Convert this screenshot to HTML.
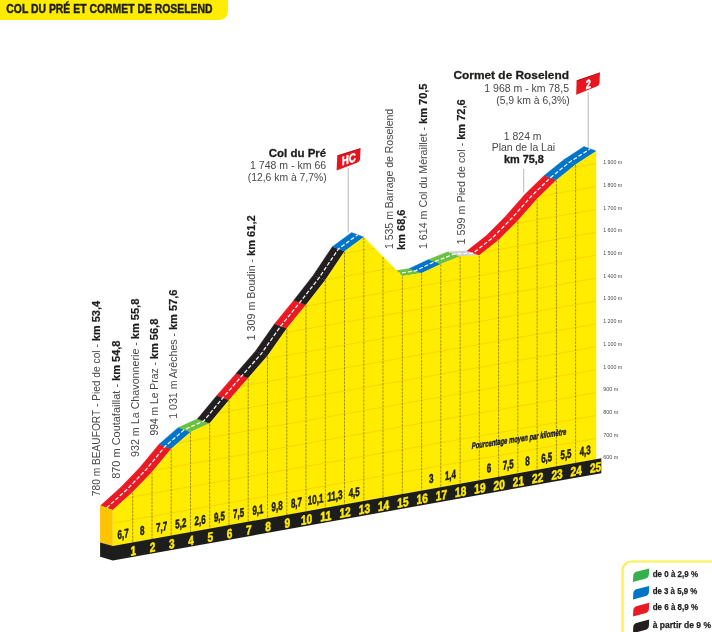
<!DOCTYPE html>
<html lang="fr"><head><meta charset="utf-8"><title>Col du Pré et Cormet de Roselend</title>
<style>html,body{margin:0;padding:0;background:#fff}svg{display:block}</style></head>
<body>
<svg width="712" height="632" viewBox="0 0 712 632" font-family="'Liberation Sans', sans-serif">
<rect width="712" height="632" fill="#fff"/>
<path d="M0 0H228V11.5a8.5 8.5 0 0 1 -8.5 8.5H0Z" fill="#ffec00"/>
<text x="6.3" y="12.6" font-size="13.2" font-weight="700" fill="#1d1d1b" stroke="#1d1d1b" stroke-width="0.45" textLength="206.3" lengthAdjust="spacingAndGlyphs">COL DU PRÉ ET CORMET DE ROSELEND</text>
<polygon points="112.8,510.0 132.7,492.0 120.5,487.5 100.6,505.5" fill="#ea1a24" stroke="#ea1a24" stroke-width="0.4"/>
<polygon points="132.7,492.0 152.0,472.0 139.8,467.5 120.5,487.5" fill="#ea1a24" stroke="#ea1a24" stroke-width="0.4"/>
<polygon points="152.0,472.0 171.2,448.7 159.0,444.2 139.8,467.5" fill="#ea1a24" stroke="#ea1a24" stroke-width="0.4"/>
<polygon points="171.2,448.7 190.5,431.9 178.3,427.4 159.0,444.2" fill="#0074c8" stroke="#0074c8" stroke-width="0.4"/>
<polygon points="190.5,431.9 209.7,423.3 197.5,418.8 178.3,427.4" fill="#6abf45" stroke="#6abf45" stroke-width="0.4"/>
<polygon points="209.7,423.3 229.0,400.0 216.8,395.5 197.5,418.8" fill="#231f20" stroke="#231f20" stroke-width="0.4"/>
<polygon points="229.0,400.0 248.2,377.9 236.0,373.4 216.8,395.5" fill="#ea1a24" stroke="#ea1a24" stroke-width="0.4"/>
<polygon points="248.2,377.9 267.5,355.8 255.3,351.3 236.0,373.4" fill="#231f20" stroke="#231f20" stroke-width="0.4"/>
<polygon points="267.5,355.8 286.8,328.3 274.6,323.8 255.3,351.3" fill="#231f20" stroke="#231f20" stroke-width="0.4"/>
<polygon points="286.8,328.3 306.0,304.7 293.8,300.2 274.6,323.8" fill="#ea1a24" stroke="#ea1a24" stroke-width="0.4"/>
<polygon points="306.0,304.7 325.3,279.9 313.1,275.4 293.8,300.2" fill="#231f20" stroke="#231f20" stroke-width="0.4"/>
<polygon points="325.3,279.9 344.5,251.2 332.3,246.7 313.1,275.4" fill="#231f20" stroke="#231f20" stroke-width="0.4"/>
<polygon points="344.5,251.2 363.8,237.0 351.6,232.5 332.3,246.7" fill="#0074c8" stroke="#0074c8" stroke-width="0.4"/>
<polygon points="402.3,276.0 421.6,273.0 409.4,268.5 390.1,271.5" fill="#6abf45" stroke="#6abf45" stroke-width="0.4"/>
<polygon points="421.6,273.0 440.8,263.9 428.6,259.4 409.4,268.5" fill="#0074c8" stroke="#0074c8" stroke-width="0.4"/>
<polygon points="440.8,263.9 460.1,256.3 447.9,251.8 428.6,259.4" fill="#6abf45" stroke="#6abf45" stroke-width="0.4"/>
<polygon points="460.1,256.3 479.3,255.3 467.1,250.8 447.9,251.8" fill="#cfcfcf" stroke="#cfcfcf" stroke-width="0.4"/>
<polygon points="479.3,255.3 498.6,240.1 486.4,235.6 467.1,250.8" fill="#ea1a24" stroke="#ea1a24" stroke-width="0.4"/>
<polygon points="498.6,240.1 517.8,220.7 505.6,216.2 486.4,235.6" fill="#ea1a24" stroke="#ea1a24" stroke-width="0.4"/>
<polygon points="517.8,220.7 537.1,198.8 524.9,194.3 505.6,216.2" fill="#ea1a24" stroke="#ea1a24" stroke-width="0.4"/>
<polygon points="537.1,198.8 556.4,180.0 544.2,175.5 524.9,194.3" fill="#ea1a24" stroke="#ea1a24" stroke-width="0.4"/>
<polygon points="556.4,180.0 575.6,164.5 563.4,160.0 544.2,175.5" fill="#0074c8" stroke="#0074c8" stroke-width="0.4"/>
<polygon points="575.6,164.5 596.2,151.0 584.0,146.5 563.4,160.0" fill="#0074c8" stroke="#0074c8" stroke-width="0.4"/>
<path d="M106.7,507.8 L126.6,489.8 L145.9,469.8 L165.1,446.4 L184.4,429.6 L203.6,421.1 L222.9,397.8 L242.1,375.6 L261.4,353.6 L280.7,326.1 L299.9,302.4 L319.2,277.6 L338.4,248.9 L357.7,234.8" fill="none" stroke="#fff" stroke-width="1.2" stroke-dasharray="4 1.9"/>
<path d="M396.2,273.8 L415.5,270.8 L434.7,261.6 L454.0,254.1 L473.2,253.1 L492.5,237.8 L511.7,218.4 L531.0,196.6 L550.3,177.8 L569.5,162.2 L590.1,148.8" fill="none" stroke="#fff" stroke-width="1.2" stroke-dasharray="4 1.9"/>
<polygon points="100.1,505.2 112.8,510.0 112.8,546.6 100.1,542.5" fill="#fdc400"/>
<clipPath id="ff"><polygon points="112.8,510.0 132.7,492.0 152.0,472.0 171.2,448.7 190.5,431.9 209.7,423.3 229.0,400.0 248.2,377.9 267.5,355.8 286.8,328.3 306.0,304.7 325.3,279.9 344.5,251.2 363.8,237.0 383.0,256.5 402.3,276.0 421.6,273.0 440.8,263.9 460.1,256.3 479.3,255.3 498.6,240.1 517.8,220.7 537.1,198.8 556.4,180.0 575.6,164.5 596.2,151.0 596.25,459.2 112.8,546.3"/></clipPath>
<polygon points="112.8,510.0 132.7,492.0 152.0,472.0 171.2,448.7 190.5,431.9 209.7,423.3 229.0,400.0 248.2,377.9 267.5,355.8 286.8,328.3 306.0,304.7 325.3,279.9 344.5,251.2 363.8,237.0 383.0,256.5 402.3,276.0 421.6,273.0 440.8,263.9 460.1,256.3 479.3,255.3 498.6,240.1 517.8,220.7 537.1,198.8 556.4,180.0 575.6,164.5 596.2,151.0 596.25,459.2 112.8,546.3" fill="#ffec00"/>
<g clip-path="url(#ff)" stroke="#f6d100" stroke-width="0.8" fill="none">
<line x1="112.8" y1="523.2" x2="596.25" y2="438.4"/>
<line x1="112.8" y1="500.3" x2="596.25" y2="415.5"/>
<line x1="112.8" y1="477.4" x2="596.25" y2="392.6"/>
<line x1="112.8" y1="454.5" x2="596.25" y2="369.7"/>
<line x1="112.8" y1="431.6" x2="596.25" y2="346.8"/>
<line x1="112.8" y1="408.7" x2="596.25" y2="323.9"/>
<line x1="112.8" y1="385.8" x2="596.25" y2="301.0"/>
<line x1="112.8" y1="362.9" x2="596.25" y2="278.1"/>
<line x1="112.8" y1="340.0" x2="596.25" y2="255.2"/>
<line x1="112.8" y1="317.1" x2="596.25" y2="232.3"/>
<line x1="112.8" y1="294.2" x2="596.25" y2="209.4"/>
<line x1="112.8" y1="271.3" x2="596.25" y2="186.5"/>
<line x1="112.8" y1="248.4" x2="596.25" y2="163.6"/>
</g>
<g stroke="#524a00" stroke-width="0.55" stroke-dasharray="2.6 1" fill="none">
<line x1="132.7" y1="492.5" x2="132.7" y2="542.7"/>
<line x1="152.0" y1="472.5" x2="152.0" y2="539.2"/>
<line x1="171.2" y1="449.2" x2="171.2" y2="535.8"/>
<line x1="190.5" y1="432.4" x2="190.5" y2="532.3"/>
<line x1="209.7" y1="423.8" x2="209.7" y2="528.8"/>
<line x1="229.0" y1="400.5" x2="229.0" y2="525.4"/>
<line x1="248.2" y1="378.4" x2="248.2" y2="521.9"/>
<line x1="267.5" y1="356.3" x2="267.5" y2="518.4"/>
<line x1="286.8" y1="328.8" x2="286.8" y2="515.0"/>
<line x1="306.0" y1="305.2" x2="306.0" y2="511.5"/>
<line x1="325.3" y1="280.4" x2="325.3" y2="508.0"/>
<line x1="344.5" y1="251.7" x2="344.5" y2="504.6"/>
<line x1="363.8" y1="237.5" x2="363.8" y2="501.1"/>
<line x1="383.0" y1="257.0" x2="383.0" y2="497.6"/>
<line x1="402.3" y1="276.5" x2="402.3" y2="494.2"/>
<line x1="421.6" y1="273.5" x2="421.6" y2="490.7"/>
<line x1="440.8" y1="264.4" x2="440.8" y2="487.2"/>
<line x1="460.1" y1="256.8" x2="460.1" y2="483.8"/>
<line x1="479.3" y1="255.8" x2="479.3" y2="480.3"/>
<line x1="498.6" y1="240.6" x2="498.6" y2="476.8"/>
<line x1="517.8" y1="221.2" x2="517.8" y2="473.4"/>
<line x1="537.1" y1="199.3" x2="537.1" y2="469.9"/>
<line x1="556.4" y1="180.5" x2="556.4" y2="466.4"/>
<line x1="575.6" y1="165.0" x2="575.6" y2="462.9"/>
</g>
<polygon points="100.1,542.5 112.8,546 601.3,458.3 601.3,473.2 112.8,560.5 100.1,556.7" fill="#1d1d1b"/>
<text transform="translate(133.3,555.3) skewY(-10.2)" font-size="13" font-weight="700" fill="#ffec00" stroke="#ffec00" stroke-width="0.55" text-anchor="middle" textLength="5.6" lengthAdjust="spacingAndGlyphs">1</text>
<text transform="translate(152.6,551.8) skewY(-10.2)" font-size="13" font-weight="700" fill="#ffec00" stroke="#ffec00" stroke-width="0.55" text-anchor="middle" textLength="5.6" lengthAdjust="spacingAndGlyphs">2</text>
<text transform="translate(171.8,548.3) skewY(-10.2)" font-size="13" font-weight="700" fill="#ffec00" stroke="#ffec00" stroke-width="0.55" text-anchor="middle" textLength="5.6" lengthAdjust="spacingAndGlyphs">3</text>
<text transform="translate(191.1,544.9) skewY(-10.2)" font-size="13" font-weight="700" fill="#ffec00" stroke="#ffec00" stroke-width="0.55" text-anchor="middle" textLength="5.6" lengthAdjust="spacingAndGlyphs">4</text>
<text transform="translate(210.3,541.4) skewY(-10.2)" font-size="13" font-weight="700" fill="#ffec00" stroke="#ffec00" stroke-width="0.55" text-anchor="middle" textLength="5.6" lengthAdjust="spacingAndGlyphs">5</text>
<text transform="translate(229.6,537.9) skewY(-10.2)" font-size="13" font-weight="700" fill="#ffec00" stroke="#ffec00" stroke-width="0.55" text-anchor="middle" textLength="5.6" lengthAdjust="spacingAndGlyphs">6</text>
<text transform="translate(248.8,534.4) skewY(-10.2)" font-size="13" font-weight="700" fill="#ffec00" stroke="#ffec00" stroke-width="0.55" text-anchor="middle" textLength="5.6" lengthAdjust="spacingAndGlyphs">7</text>
<text transform="translate(268.1,531.0) skewY(-10.2)" font-size="13" font-weight="700" fill="#ffec00" stroke="#ffec00" stroke-width="0.55" text-anchor="middle" textLength="5.6" lengthAdjust="spacingAndGlyphs">8</text>
<text transform="translate(287.4,527.5) skewY(-10.2)" font-size="13" font-weight="700" fill="#ffec00" stroke="#ffec00" stroke-width="0.55" text-anchor="middle" textLength="5.6" lengthAdjust="spacingAndGlyphs">9</text>
<text transform="translate(306.6,524.0) skewY(-10.2)" font-size="13" font-weight="700" fill="#ffec00" stroke="#ffec00" stroke-width="0.55" text-anchor="middle" textLength="11.2" lengthAdjust="spacingAndGlyphs">10</text>
<text transform="translate(325.9,520.6) skewY(-10.2)" font-size="13" font-weight="700" fill="#ffec00" stroke="#ffec00" stroke-width="0.55" text-anchor="middle" textLength="11.2" lengthAdjust="spacingAndGlyphs">11</text>
<text transform="translate(345.1,517.1) skewY(-10.2)" font-size="13" font-weight="700" fill="#ffec00" stroke="#ffec00" stroke-width="0.55" text-anchor="middle" textLength="11.2" lengthAdjust="spacingAndGlyphs">12</text>
<text transform="translate(364.4,513.6) skewY(-10.2)" font-size="13" font-weight="700" fill="#ffec00" stroke="#ffec00" stroke-width="0.55" text-anchor="middle" textLength="11.2" lengthAdjust="spacingAndGlyphs">13</text>
<text transform="translate(383.6,510.2) skewY(-10.2)" font-size="13" font-weight="700" fill="#ffec00" stroke="#ffec00" stroke-width="0.55" text-anchor="middle" textLength="11.2" lengthAdjust="spacingAndGlyphs">14</text>
<text transform="translate(402.9,506.7) skewY(-10.2)" font-size="13" font-weight="700" fill="#ffec00" stroke="#ffec00" stroke-width="0.55" text-anchor="middle" textLength="11.2" lengthAdjust="spacingAndGlyphs">15</text>
<text transform="translate(422.2,503.2) skewY(-10.2)" font-size="13" font-weight="700" fill="#ffec00" stroke="#ffec00" stroke-width="0.55" text-anchor="middle" textLength="11.2" lengthAdjust="spacingAndGlyphs">16</text>
<text transform="translate(441.4,499.8) skewY(-10.2)" font-size="13" font-weight="700" fill="#ffec00" stroke="#ffec00" stroke-width="0.55" text-anchor="middle" textLength="11.2" lengthAdjust="spacingAndGlyphs">17</text>
<text transform="translate(460.7,496.3) skewY(-10.2)" font-size="13" font-weight="700" fill="#ffec00" stroke="#ffec00" stroke-width="0.55" text-anchor="middle" textLength="11.2" lengthAdjust="spacingAndGlyphs">18</text>
<text transform="translate(479.9,492.8) skewY(-10.2)" font-size="13" font-weight="700" fill="#ffec00" stroke="#ffec00" stroke-width="0.55" text-anchor="middle" textLength="11.2" lengthAdjust="spacingAndGlyphs">19</text>
<text transform="translate(499.2,489.4) skewY(-10.2)" font-size="13" font-weight="700" fill="#ffec00" stroke="#ffec00" stroke-width="0.55" text-anchor="middle" textLength="11.2" lengthAdjust="spacingAndGlyphs">20</text>
<text transform="translate(518.4,485.9) skewY(-10.2)" font-size="13" font-weight="700" fill="#ffec00" stroke="#ffec00" stroke-width="0.55" text-anchor="middle" textLength="11.2" lengthAdjust="spacingAndGlyphs">21</text>
<text transform="translate(537.7,482.4) skewY(-10.2)" font-size="13" font-weight="700" fill="#ffec00" stroke="#ffec00" stroke-width="0.55" text-anchor="middle" textLength="11.2" lengthAdjust="spacingAndGlyphs">22</text>
<text transform="translate(557.0,479.0) skewY(-10.2)" font-size="13" font-weight="700" fill="#ffec00" stroke="#ffec00" stroke-width="0.55" text-anchor="middle" textLength="11.2" lengthAdjust="spacingAndGlyphs">23</text>
<text transform="translate(576.2,475.5) skewY(-10.2)" font-size="13" font-weight="700" fill="#ffec00" stroke="#ffec00" stroke-width="0.55" text-anchor="middle" textLength="11.2" lengthAdjust="spacingAndGlyphs">24</text>
<text transform="translate(595.5,472.0) skewY(-10.2)" font-size="13" font-weight="700" fill="#ffec00" stroke="#ffec00" stroke-width="0.55" text-anchor="middle" textLength="11.2" lengthAdjust="spacingAndGlyphs">25</text>
<text transform="translate(123.1,538.2) skewY(-10.2)" font-size="12.5" font-weight="700" fill="#1d1d1b" stroke="#1d1d1b" stroke-width="0.55" text-anchor="middle" textLength="11.0" lengthAdjust="spacingAndGlyphs">6,7</text>
<text transform="translate(142.3,534.8) skewY(-10.2)" font-size="12.5" font-weight="700" fill="#1d1d1b" stroke="#1d1d1b" stroke-width="0.55" text-anchor="middle" textLength="4.5" lengthAdjust="spacingAndGlyphs">8</text>
<text transform="translate(161.6,531.3) skewY(-10.2)" font-size="12.5" font-weight="700" fill="#1d1d1b" stroke="#1d1d1b" stroke-width="0.55" text-anchor="middle" textLength="11.0" lengthAdjust="spacingAndGlyphs">7,7</text>
<text transform="translate(180.8,527.8) skewY(-10.2)" font-size="12.5" font-weight="700" fill="#1d1d1b" stroke="#1d1d1b" stroke-width="0.55" text-anchor="middle" textLength="11.0" lengthAdjust="spacingAndGlyphs">5,2</text>
<text transform="translate(200.1,524.4) skewY(-10.2)" font-size="12.5" font-weight="700" fill="#1d1d1b" stroke="#1d1d1b" stroke-width="0.55" text-anchor="middle" textLength="11.0" lengthAdjust="spacingAndGlyphs">2,6</text>
<text transform="translate(219.4,520.9) skewY(-10.2)" font-size="12.5" font-weight="700" fill="#1d1d1b" stroke="#1d1d1b" stroke-width="0.55" text-anchor="middle" textLength="11.0" lengthAdjust="spacingAndGlyphs">9,5</text>
<text transform="translate(238.6,517.4) skewY(-10.2)" font-size="12.5" font-weight="700" fill="#1d1d1b" stroke="#1d1d1b" stroke-width="0.55" text-anchor="middle" textLength="11.0" lengthAdjust="spacingAndGlyphs">7,5</text>
<text transform="translate(257.9,514.0) skewY(-10.2)" font-size="12.5" font-weight="700" fill="#1d1d1b" stroke="#1d1d1b" stroke-width="0.55" text-anchor="middle" textLength="11.0" lengthAdjust="spacingAndGlyphs">9,1</text>
<text transform="translate(277.1,510.5) skewY(-10.2)" font-size="12.5" font-weight="700" fill="#1d1d1b" stroke="#1d1d1b" stroke-width="0.55" text-anchor="middle" textLength="11.0" lengthAdjust="spacingAndGlyphs">9,8</text>
<text transform="translate(296.4,507.0) skewY(-10.2)" font-size="12.5" font-weight="700" fill="#1d1d1b" stroke="#1d1d1b" stroke-width="0.55" text-anchor="middle" textLength="11.0" lengthAdjust="spacingAndGlyphs">8,7</text>
<text transform="translate(315.6,503.6) skewY(-10.2)" font-size="12.5" font-weight="700" fill="#1d1d1b" stroke="#1d1d1b" stroke-width="0.55" text-anchor="middle" textLength="15.5" lengthAdjust="spacingAndGlyphs">10,1</text>
<text transform="translate(334.9,500.1) skewY(-10.2)" font-size="12.5" font-weight="700" fill="#1d1d1b" stroke="#1d1d1b" stroke-width="0.55" text-anchor="middle" textLength="15.5" lengthAdjust="spacingAndGlyphs">11,3</text>
<text transform="translate(354.2,496.6) skewY(-10.2)" font-size="12.5" font-weight="700" fill="#1d1d1b" stroke="#1d1d1b" stroke-width="0.55" text-anchor="middle" textLength="11.0" lengthAdjust="spacingAndGlyphs">4,5</text>
<text transform="translate(431.2,482.8) skewY(-10.2)" font-size="12.5" font-weight="700" fill="#1d1d1b" stroke="#1d1d1b" stroke-width="0.55" text-anchor="middle" textLength="4.5" lengthAdjust="spacingAndGlyphs">3</text>
<text transform="translate(450.4,479.3) skewY(-10.2)" font-size="12.5" font-weight="700" fill="#1d1d1b" stroke="#1d1d1b" stroke-width="0.55" text-anchor="middle" textLength="11.0" lengthAdjust="spacingAndGlyphs">1,4</text>
<text transform="translate(489.0,472.4) skewY(-10.2)" font-size="12.5" font-weight="700" fill="#1d1d1b" stroke="#1d1d1b" stroke-width="0.55" text-anchor="middle" textLength="4.5" lengthAdjust="spacingAndGlyphs">6</text>
<text transform="translate(508.2,468.9) skewY(-10.2)" font-size="12.5" font-weight="700" fill="#1d1d1b" stroke="#1d1d1b" stroke-width="0.55" text-anchor="middle" textLength="11.0" lengthAdjust="spacingAndGlyphs">7,5</text>
<text transform="translate(527.5,465.4) skewY(-10.2)" font-size="12.5" font-weight="700" fill="#1d1d1b" stroke="#1d1d1b" stroke-width="0.55" text-anchor="middle" textLength="4.5" lengthAdjust="spacingAndGlyphs">8</text>
<text transform="translate(546.7,461.9) skewY(-10.2)" font-size="12.5" font-weight="700" fill="#1d1d1b" stroke="#1d1d1b" stroke-width="0.55" text-anchor="middle" textLength="11.0" lengthAdjust="spacingAndGlyphs">6,5</text>
<text transform="translate(566.0,458.5) skewY(-10.2)" font-size="12.5" font-weight="700" fill="#1d1d1b" stroke="#1d1d1b" stroke-width="0.55" text-anchor="middle" textLength="11.0" lengthAdjust="spacingAndGlyphs">5,5</text>
<text transform="translate(585.2,455.0) skewY(-10.2)" font-size="12.5" font-weight="700" fill="#1d1d1b" stroke="#1d1d1b" stroke-width="0.55" text-anchor="middle" textLength="11.0" lengthAdjust="spacingAndGlyphs">4,3</text>
<text transform="translate(471.8,448.9) skewY(-8.6)" font-size="9" font-weight="700" font-style="italic" fill="#14143c" stroke="#14143c" stroke-width="0.4" textLength="94.5" lengthAdjust="spacingAndGlyphs">Pourcentage moyen par kilomètre</text>
<text x="603.2" y="459.3" font-size="5.5" fill="#4a4a4a" textLength="15.2" lengthAdjust="spacingAndGlyphs">600 m</text>
<text x="603.2" y="436.6" font-size="5.5" fill="#4a4a4a" textLength="15.2" lengthAdjust="spacingAndGlyphs">700 m</text>
<text x="603.2" y="413.9" font-size="5.5" fill="#4a4a4a" textLength="15.2" lengthAdjust="spacingAndGlyphs">800 m</text>
<text x="603.2" y="391.2" font-size="5.5" fill="#4a4a4a" textLength="15.2" lengthAdjust="spacingAndGlyphs">900 m</text>
<text x="603.2" y="368.5" font-size="5.5" fill="#4a4a4a" textLength="19" lengthAdjust="spacingAndGlyphs">1 000 m</text>
<text x="603.2" y="345.8" font-size="5.5" fill="#4a4a4a" textLength="19" lengthAdjust="spacingAndGlyphs">1 100 m</text>
<text x="603.2" y="323.0" font-size="5.5" fill="#4a4a4a" textLength="19" lengthAdjust="spacingAndGlyphs">1 200 m</text>
<text x="603.2" y="300.3" font-size="5.5" fill="#4a4a4a" textLength="19" lengthAdjust="spacingAndGlyphs">1 300 m</text>
<text x="603.2" y="277.6" font-size="5.5" fill="#4a4a4a" textLength="19" lengthAdjust="spacingAndGlyphs">1 400 m</text>
<text x="603.2" y="254.9" font-size="5.5" fill="#4a4a4a" textLength="19" lengthAdjust="spacingAndGlyphs">1 500 m</text>
<text x="603.2" y="232.2" font-size="5.5" fill="#4a4a4a" textLength="19" lengthAdjust="spacingAndGlyphs">1 600 m</text>
<text x="603.2" y="209.5" font-size="5.5" fill="#4a4a4a" textLength="19" lengthAdjust="spacingAndGlyphs">1 700 m</text>
<text x="603.2" y="186.8" font-size="5.5" fill="#4a4a4a" textLength="19" lengthAdjust="spacingAndGlyphs">1 800 m</text>
<text x="603.2" y="164.1" font-size="5.5" fill="#4a4a4a" textLength="19" lengthAdjust="spacingAndGlyphs">1 900 m</text>
<text transform="translate(99.8,496.2) rotate(-90)" font-size="10.6" fill="#484847" textLength="152.0" lengthAdjust="spacingAndGlyphs">780 m BEAUFORT - Pied de col -</text>
<text transform="translate(99.8,300.8) rotate(-90)" font-size="10.6" font-weight="700" fill="#1d1d1b" stroke="#1d1d1b" stroke-width="0.2" text-anchor="end" textLength="40.5" lengthAdjust="spacingAndGlyphs">km 53,4</text>
<text transform="translate(119.5,478.8) rotate(-90)" font-size="10.6" fill="#484847" textLength="94.9" lengthAdjust="spacingAndGlyphs">870 m Coutafaillat -</text>
<text transform="translate(119.5,340.5) rotate(-90)" font-size="10.6" font-weight="700" fill="#1d1d1b" stroke="#1d1d1b" stroke-width="0.2" text-anchor="end" textLength="40.5" lengthAdjust="spacingAndGlyphs">km 54,8</text>
<text transform="translate(139.0,457.0) rotate(-90)" font-size="10.6" fill="#484847" textLength="114.9" lengthAdjust="spacingAndGlyphs">932 m La Chavonnerie -</text>
<text transform="translate(139.0,298.7) rotate(-90)" font-size="10.6" font-weight="700" fill="#1d1d1b" stroke="#1d1d1b" stroke-width="0.2" text-anchor="end" textLength="40.5" lengthAdjust="spacingAndGlyphs">km 55,8</text>
<text transform="translate(158.1,435.6) rotate(-90)" font-size="10.6" fill="#484847" textLength="73.5" lengthAdjust="spacingAndGlyphs">994 m Le Praz -</text>
<text transform="translate(158.1,318.7) rotate(-90)" font-size="10.6" font-weight="700" fill="#1d1d1b" stroke="#1d1d1b" stroke-width="0.2" text-anchor="end" textLength="40.5" lengthAdjust="spacingAndGlyphs">km 56,8</text>
<text transform="translate(176.9,418.7) rotate(-90)" font-size="10.6" fill="#484847" textLength="85.7" lengthAdjust="spacingAndGlyphs">1 031 m Arêches -</text>
<text transform="translate(176.9,289.6) rotate(-90)" font-size="10.6" font-weight="700" fill="#1d1d1b" stroke="#1d1d1b" stroke-width="0.2" text-anchor="end" textLength="40.5" lengthAdjust="spacingAndGlyphs">km 57,6</text>
<text transform="translate(254.9,340.4) rotate(-90)" font-size="10.6" fill="#484847" textLength="81.6" lengthAdjust="spacingAndGlyphs">1 309 m Boudin -</text>
<text transform="translate(254.9,215.4) rotate(-90)" font-size="10.6" font-weight="700" fill="#1d1d1b" stroke="#1d1d1b" stroke-width="0.2" text-anchor="end" textLength="40.5" lengthAdjust="spacingAndGlyphs">km 61,2</text>
<text transform="translate(393.0,249.1) rotate(-90)" font-size="10.6" fill="#484847" textLength="140.3" lengthAdjust="spacingAndGlyphs">1 535 m Barrage de Roselend</text>
<text transform="translate(405.1,249.9) rotate(-90)" font-size="10.6" font-weight="700" fill="#1d1d1b" stroke="#1d1d1b" stroke-width="0.2" textLength="40.3" lengthAdjust="spacingAndGlyphs">km 68,6</text>
<text transform="translate(427.2,249.1) rotate(-90)" font-size="10.6" fill="#484847" textLength="122.2" lengthAdjust="spacingAndGlyphs">1 614 m Col du Méraillet -</text>
<text transform="translate(427.2,83.5) rotate(-90)" font-size="10.6" font-weight="700" fill="#1d1d1b" stroke="#1d1d1b" stroke-width="0.2" text-anchor="end" textLength="40.5" lengthAdjust="spacingAndGlyphs">km 70,5</text>
<text transform="translate(465.4,244.4) rotate(-90)" font-size="10.6" fill="#484847" textLength="101.7" lengthAdjust="spacingAndGlyphs">1 599 m Pied de col -</text>
<text transform="translate(465.4,99.3) rotate(-90)" font-size="10.6" font-weight="700" fill="#1d1d1b" stroke="#1d1d1b" stroke-width="0.2" text-anchor="end" textLength="40.5" lengthAdjust="spacingAndGlyphs">km 72,6</text>
<text x="326.2" y="156.5" font-size="11.6" font-weight="700" stroke="#1d1d1b" stroke-width="0.3" fill="#1d1d1b" text-anchor="end" textLength="57.4" lengthAdjust="spacingAndGlyphs">Col du Pré</text>
<text x="326.2" y="169.1" font-size="10.6" fill="#484847" text-anchor="end" textLength="76.2" lengthAdjust="spacingAndGlyphs">1 748 m - km 66</text>
<text x="326.7" y="180.6" font-size="10.6" fill="#484847" text-anchor="end" textLength="79.0" lengthAdjust="spacingAndGlyphs">(12,6 km à 7,7%)</text>
<text x="569.0" y="79.1" font-size="11.6" font-weight="700" stroke="#1d1d1b" stroke-width="0.3" fill="#1d1d1b" text-anchor="end" textLength="115.5" lengthAdjust="spacingAndGlyphs">Cormet de Roselend</text>
<text x="569.0" y="91.5" font-size="10.6" fill="#484847" text-anchor="end" textLength="84.7" lengthAdjust="spacingAndGlyphs">1 968 m - km 78,5</text>
<text x="569.7" y="103.8" font-size="10.6" fill="#484847" text-anchor="end" textLength="73.5" lengthAdjust="spacingAndGlyphs">(5,9 km à 6,3%)</text>
<text x="522.7" y="140.4" font-size="10.6" fill="#484847" text-anchor="middle" textLength="37.7" lengthAdjust="spacingAndGlyphs">1 824 m</text>
<text x="523.4" y="151.0" font-size="10.6" fill="#484847" text-anchor="middle" textLength="63.4" lengthAdjust="spacingAndGlyphs">Plan de la Lai</text>
<text x="523.9" y="162.9" font-size="10.6" font-weight="700" stroke="#1d1d1b" stroke-width="0.3" fill="#1d1d1b" text-anchor="middle" textLength="40.0" lengthAdjust="spacingAndGlyphs">km 75,8</text>
<g stroke="#a8a8a8" stroke-width="0.8">
<line x1="348.2" y1="168" x2="348.2" y2="232.5"/>
<line x1="588.2" y1="92" x2="588.2" y2="148"/>
<line x1="523.7" y1="169" x2="523.7" y2="192.5"/>
</g>
<path d="M337.3,155.6 L360.5,148.3 L360.1,158.5 Q360,161.6 357,162.7 L336.6,170.5 Z" fill="#e8151f"/>
<path d="M337.5,155.9 L360.4,148.7" stroke="#b30f18" stroke-width="0.9" fill="none"/>
<text transform="translate(348.9,163.2) skewY(-18)" font-size="12.3" font-weight="700" fill="#fff" stroke="#fff" stroke-width="0.5" text-anchor="middle" textLength="13.6" lengthAdjust="spacingAndGlyphs">HC</text>
<path d="M576.6,80.5 L599.9,72.6 L599.6,82.3 Q599.5,85.4 596.5,86.6 L576.2,94.8 Z" fill="#e8151f"/>
<path d="M576.8,80.8 L599.8,73" stroke="#b30f18" stroke-width="0.9" fill="none"/>
<text transform="translate(588.2,88.4) skewY(-18)" font-size="12.3" font-weight="700" fill="#fff" stroke="#fff" stroke-width="0.5" text-anchor="middle" textLength="5" lengthAdjust="spacingAndGlyphs">2</text>
<path d="M622.6,640 V570.5 a9,9 0 0 1 9,-9 H720" fill="none" stroke="#ffee50" stroke-width="2.2"/>
<path d="M649.2,568.4000000000001 L648.9,574.8000000000001 Q648.6,578.0000000000001 645,578.8000000000001 L633,582.0000000000001 L633.3,575.6000000000001 Q633.6,572.4000000000001 637.2,571.6000000000001 Z" fill="#35b04a"/>
<text x="652.7" y="576.6" font-size="9.6" font-weight="700" fill="#1d1d1b" stroke="#1d1d1b" stroke-width="0.25" textLength="45.3" lengthAdjust="spacingAndGlyphs">de 0 à 2,9 %</text>
<path d="M649.2,585.9000000000001 L648.9,592.3000000000001 Q648.6,595.5000000000001 645,596.3000000000001 L633,599.5000000000001 L633.3,593.1000000000001 Q633.6,589.9000000000001 637.2,589.1000000000001 Z" fill="#0074c8"/>
<text x="652.7" y="593.7" font-size="9.6" font-weight="700" fill="#1d1d1b" stroke="#1d1d1b" stroke-width="0.25" textLength="44.6" lengthAdjust="spacingAndGlyphs">de 3 à 5,9 %</text>
<path d="M649.2,602.8000000000001 L648.9,609.2 Q648.6,612.4000000000001 645,613.2 L633,616.4000000000001 L633.3,610.0000000000001 Q633.6,606.8000000000001 637.2,606.0000000000001 Z" fill="#ea1a24"/>
<text x="652.7" y="610.3" font-size="9.6" font-weight="700" fill="#1d1d1b" stroke="#1d1d1b" stroke-width="0.25" textLength="45.3" lengthAdjust="spacingAndGlyphs">de 6 à 8,9 %</text>
<path d="M649.2,619.6 L648.9,626.0 Q648.6,629.2 645,630.0 L633,633.2 L633.3,626.8000000000001 Q633.6,623.6 637.2,622.8000000000001 Z" fill="#231f20"/>
<text x="652.7" y="627.8" font-size="9.6" font-weight="700" fill="#1d1d1b" stroke="#1d1d1b" stroke-width="0.25" textLength="58.3" lengthAdjust="spacingAndGlyphs">à partir de 9 %</text>
</svg>
</body></html>
